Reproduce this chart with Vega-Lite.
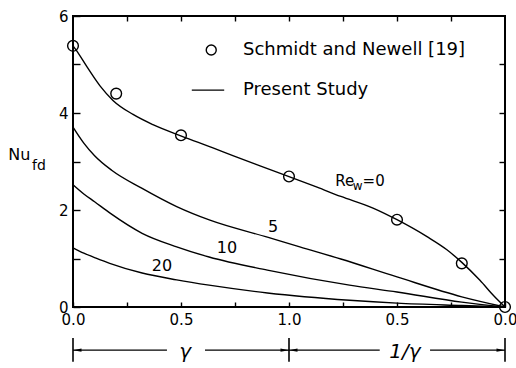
{
  "$schema": "https://vega.github.io/schema/vega-lite/v6.json",
  "width": 432,
  "height": 291,
  "autosize": {"type": "none"},
  "padding": {"left": 73, "top": 16, "right": 11, "bottom": 61},
  "background": "white",
  "config": {
    "font": "DejaVu Sans",
    "view": {"stroke": "black", "strokeWidth": 2},
    "axis": {"domain": false, "grid": false, "ticks": true, "labelColor": "black", "tickColor": "black", "labelFont": "DejaVu Sans", "labelFontSize": 15, "tickWidth": 1.4, "title": null}
  },
  "datasets": {
    "curves": [
      {"Re": 0, "pos": 0, "Nu": 5.385}, {"Re": 0, "pos": 0.014, "Nu": 5.3}, {"Re": 0, "pos": 0.065, "Nu": 4.95}, {"Re": 0, "pos": 0.125, "Nu": 4.56}, {"Re": 0, "pos": 0.185, "Nu": 4.26}, {"Re": 0, "pos": 0.278, "Nu": 3.97}, {"Re": 0, "pos": 0.37, "Nu": 3.76}, {"Re": 0, "pos": 0.505, "Nu": 3.52}, {"Re": 0, "pos": 0.648, "Nu": 3.28}, {"Re": 0, "pos": 0.74, "Nu": 3.12}, {"Re": 0, "pos": 0.866, "Nu": 2.91}, {"Re": 0, "pos": 1.0, "Nu": 2.69}, {"Re": 0, "pos": 1.13, "Nu": 2.47}, {"Re": 0, "pos": 1.24, "Nu": 2.28}, {"Re": 0, "pos": 1.389, "Nu": 2.04}, {"Re": 0, "pos": 1.5, "Nu": 1.8}, {"Re": 0, "pos": 1.639, "Nu": 1.45}, {"Re": 0, "pos": 1.731, "Nu": 1.18}, {"Re": 0, "pos": 1.8, "Nu": 0.92}, {"Re": 0, "pos": 1.884, "Nu": 0.55}, {"Re": 0, "pos": 1.95, "Nu": 0.22}, {"Re": 0, "pos": 2.0, "Nu": 0},
      {"Re": 5, "pos": 0, "Nu": 3.71}, {"Re": 5, "pos": 0.05, "Nu": 3.38}, {"Re": 5, "pos": 0.1, "Nu": 3.12}, {"Re": 5, "pos": 0.179, "Nu": 2.82}, {"Re": 5, "pos": 0.318, "Nu": 2.45}, {"Re": 5, "pos": 0.48, "Nu": 2.07}, {"Re": 5, "pos": 0.634, "Nu": 1.79}, {"Re": 5, "pos": 0.9, "Nu": 1.44}, {"Re": 5, "pos": 1.05, "Nu": 1.24}, {"Re": 5, "pos": 1.24, "Nu": 0.99}, {"Re": 5, "pos": 1.5, "Nu": 0.62}, {"Re": 5, "pos": 1.8, "Nu": 0.21}, {"Re": 5, "pos": 2.0, "Nu": 0},
      {"Re": 10, "pos": 0, "Nu": 2.52}, {"Re": 10, "pos": 0.05, "Nu": 2.33}, {"Re": 10, "pos": 0.1, "Nu": 2.17}, {"Re": 10, "pos": 0.17, "Nu": 1.94}, {"Re": 10, "pos": 0.32, "Nu": 1.52}, {"Re": 10, "pos": 0.48, "Nu": 1.24}, {"Re": 10, "pos": 0.63, "Nu": 1.03}, {"Re": 10, "pos": 0.9, "Nu": 0.76}, {"Re": 10, "pos": 1.28, "Nu": 0.45}, {"Re": 10, "pos": 1.5, "Nu": 0.31}, {"Re": 10, "pos": 1.8, "Nu": 0.1}, {"Re": 10, "pos": 2.0, "Nu": 0},
      {"Re": 20, "pos": 0, "Nu": 1.22}, {"Re": 20, "pos": 0.05, "Nu": 1.11}, {"Re": 20, "pos": 0.1, "Nu": 1.02}, {"Re": 20, "pos": 0.17, "Nu": 0.9}, {"Re": 20, "pos": 0.32, "Nu": 0.7}, {"Re": 20, "pos": 0.48, "Nu": 0.56}, {"Re": 20, "pos": 0.63, "Nu": 0.45}, {"Re": 20, "pos": 0.9, "Nu": 0.29}, {"Re": 20, "pos": 1.28, "Nu": 0.14}, {"Re": 20, "pos": 1.5, "Nu": 0.08}, {"Re": 20, "pos": 1.8, "Nu": 0.03}, {"Re": 20, "pos": 2.0, "Nu": 0}
    ],
    "exp": [
      {"pos": 0, "Nu": 5.385}, {"pos": 0.2, "Nu": 4.4}, {"pos": 0.5, "Nu": 3.54}, {"pos": 1.0, "Nu": 2.69}, {"pos": 1.5, "Nu": 1.8}, {"pos": 1.8, "Nu": 0.9}, {"pos": 2.0, "Nu": 0}
    ]
  },
  "layer": [
    {
      "data": {"name": "curves"},
      "mark": {"type": "line", "interpolate": "monotone", "stroke": "black", "strokeWidth": 1.4},
      "encoding": {
        "x": {"field": "pos", "type": "quantitative", "scale": {"domain": [0, 2], "nice": false, "zero": false},
          "axis": {"orient": "bottom", "values": [0, 0.25, 0.5, 0.75, 1, 1.25, 1.5, 1.75, 2], "offset": -5, "tickSize": 5, "labelPadding": 5, "labelOverlap": false, "labelFlush": false, "labelBound": false,
            "labelExpr": "(datum.value * 2) % 1 != 0 ? '' : format(datum.value <= 1 ? datum.value : 2 - datum.value, '.1f')"}},
        "y": {"field": "Nu", "type": "quantitative", "scale": {"domain": [0, 6], "nice": false, "zero": false},
          "axis": {"orient": "left", "values": [0, 1, 2, 3, 4, 5, 6], "offset": -7, "tickSize": 7, "labelPadding": 5, "labelOverlap": false, "labelFlush": false, "labelBound": false,
            "labelExpr": "datum.value % 2 == 0 ? datum.label : ''"}},
        "detail": {"field": "Re", "type": "nominal"}
      }
    },
    {
      "data": {"name": "exp"},
      "mark": {"type": "point", "shape": "circle", "filled": false, "stroke": "black", "strokeWidth": 1.4, "size": 115, "opacity": 1},
      "encoding": {
        "x": {"field": "pos", "type": "quantitative", "axis": {"orient": "top", "values": [0.25, 0.5, 0.75, 1, 1.25, 1.5, 1.75], "offset": -5, "tickSize": 5, "labels": false}},
        "y": {"field": "Nu", "type": "quantitative", "axis": {"orient": "right", "values": [1, 2, 3, 4, 5], "offset": -6, "tickSize": 6, "labels": false}}
      }
    },
    {
      "data": {"values": [{"pos": 0.64, "Nu": 5.3}]},
      "mark": {"type": "point", "shape": "circle", "filled": false, "stroke": "black", "strokeWidth": 1.4, "size": 100, "opacity": 1},
      "encoding": {"x": {"field": "pos", "type": "quantitative", "axis": null}, "y": {"field": "Nu", "type": "quantitative", "axis": null}}
    },
    {
      "data": {"values": [{"a": 0.55, "b": 0.70, "Nu": 4.47}]},
      "mark": {"type": "rule", "stroke": "black", "strokeWidth": 1.3},
      "encoding": {"x": {"field": "a", "type": "quantitative", "axis": null}, "x2": {"field": "b"}, "y": {"field": "Nu", "type": "quantitative", "axis": null}}
    },
    {
      "data": {"values": [{"t": "Schmidt and Newell [19]", "pos": 0.787, "Nu": 5.3}, {"t": "Present Study", "pos": 0.787, "Nu": 4.47}]},
      "mark": {"type": "text", "align": "left", "baseline": "middle", "fontSize": 18, "color": "black"},
      "encoding": {"x": {"field": "pos", "type": "quantitative", "axis": null}, "y": {"field": "Nu", "type": "quantitative", "axis": null}, "text": {"field": "t"}}
    },
    {
      "data": {"values": [{"t": "5", "pos": 0.926, "Nu": 1.65}, {"t": "10", "pos": 0.713, "Nu": 1.22}, {"t": "20", "pos": 0.412, "Nu": 0.845}]},
      "mark": {"type": "text", "align": "center", "baseline": "middle", "fontSize": 16, "color": "black"},
      "encoding": {"x": {"field": "pos", "type": "quantitative", "axis": null}, "y": {"field": "Nu", "type": "quantitative", "axis": null}, "text": {"field": "t"}}
    },
    {
      "data": {"values": [{"t": "Re", "pos": 1.258, "Nu": 2.6}, {"t": "=0", "pos": 1.392, "Nu": 2.6}]},
      "mark": {"type": "text", "align": "center", "baseline": "middle", "fontSize": 15, "color": "black"},
      "encoding": {"x": {"field": "pos", "type": "quantitative", "axis": null}, "y": {"field": "Nu", "type": "quantitative", "axis": null}, "text": {"field": "t"}}
    },
    {
      "data": {"values": [{"t": "w", "pos": 1.318, "Nu": 2.49}]},
      "mark": {"type": "text", "align": "center", "baseline": "middle", "fontSize": 12, "color": "black"},
      "encoding": {"x": {"field": "pos", "type": "quantitative", "axis": null}, "y": {"field": "Nu", "type": "quantitative", "axis": null}, "text": {"field": "t"}}
    },
    {
      "data": {"values": [{"t": "Nu", "pos": -0.3, "Nu": 3.03}]},
      "mark": {"type": "text", "align": "left", "baseline": "alphabetic", "fontSize": 16, "color": "black"},
      "encoding": {"x": {"field": "pos", "type": "quantitative", "axis": null}, "y": {"field": "Nu", "type": "quantitative", "axis": null}, "text": {"field": "t"}}
    },
    {
      "data": {"values": [{"t": "fd", "pos": -0.19, "Nu": 2.82}]},
      "mark": {"type": "text", "align": "left", "baseline": "alphabetic", "fontSize": 14, "color": "black"},
      "encoding": {"x": {"field": "pos", "type": "quantitative", "axis": null}, "y": {"field": "Nu", "type": "quantitative", "axis": null}, "text": {"field": "t"}}
    },
    {
      "data": {"values": [{"pos": 0}, {"pos": 1}, {"pos": 2}]},
      "mark": {"type": "rule", "stroke": "black", "strokeWidth": 1.6},
      "encoding": {"x": {"field": "pos", "type": "quantitative", "axis": null}, "y": {"datum": -0.64, "type": "quantitative", "axis": null}, "y2": {"datum": -1.13}}
    },
    {
      "data": {"values": [{"a": 0, "b": 0.435}, {"a": 0.611, "b": 1.0}, {"a": 1.0, "b": 1.42}, {"a": 1.653, "b": 2.0}]},
      "mark": {"type": "rule", "stroke": "black", "strokeWidth": 1.1},
      "encoding": {"x": {"field": "a", "type": "quantitative", "axis": null}, "x2": {"field": "b"}, "y": {"datum": -0.89, "type": "quantitative", "axis": null}}
    },
    {
      "data": {"values": [{"pos": 0.02}, {"pos": 1.02}]},
      "mark": {"type": "point", "shape": "M-1,0L1,-0.4L1,0.4Z", "filled": true, "color": "black", "size": 70, "opacity": 1},
      "encoding": {"x": {"field": "pos", "type": "quantitative", "axis": null}, "y": {"datum": -0.89, "type": "quantitative", "axis": null}}
    },
    {
      "data": {"values": [{"pos": 0.98}, {"pos": 1.98}]},
      "mark": {"type": "point", "shape": "M1,0L-1,-0.4L-1,0.4Z", "filled": true, "color": "black", "size": 70, "opacity": 1},
      "encoding": {"x": {"field": "pos", "type": "quantitative", "axis": null}, "y": {"datum": -0.89, "type": "quantitative", "axis": null}}
    },
    {
      "data": {"values": [{"t": "γ", "pos": 0.519}, {"t": "1/γ", "pos": 1.537}]},
      "mark": {"type": "text", "align": "center", "baseline": "middle", "fontSize": 20, "fontStyle": "italic", "color": "black"},
      "encoding": {"x": {"field": "pos", "type": "quantitative", "axis": null}, "y": {"datum": -0.93, "type": "quantitative", "axis": null}, "text": {"field": "t"}}
    }
  ],
  "resolve": {"axis": {"x": "independent", "y": "independent"}}
}
